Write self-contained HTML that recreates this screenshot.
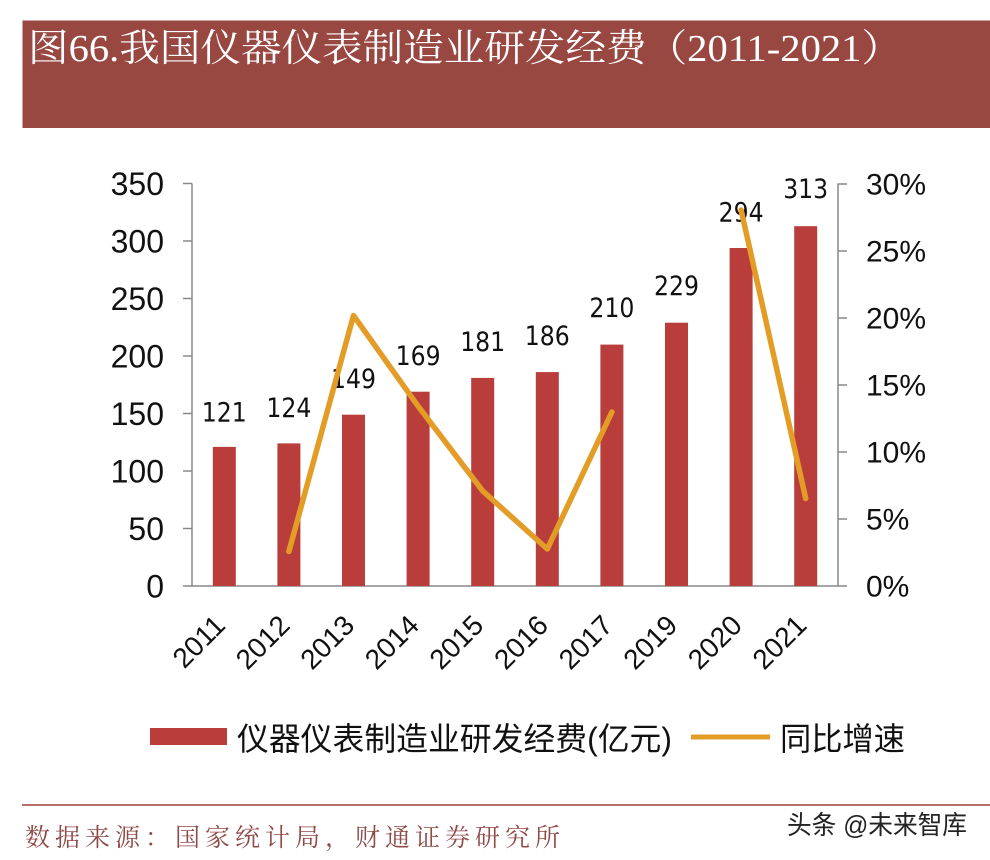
<!DOCTYPE html>
<html>
<head>
<meta charset="utf-8">
<style>
  html, body { margin:0; padding:0; background:#ffffff; }
  body { width:990px; height:860px; overflow:hidden; }
  svg { display:block; }
</style>
</head>
<body>
<svg width="990" height="860" viewBox="0 0 990 860" xmlns="http://www.w3.org/2000/svg">
  <rect x="0" y="0" width="990" height="860" fill="#ffffff"/>

  <!-- Title banner -->
  <rect x="22.5" y="20.5" width="968" height="107.5" fill="#984741"/>
  <text x="28" y="61" font-family="'Liberation Serif','Noto Serif CJK SC',serif" font-size="38" fill="#ffffff" textLength="874" lengthAdjust="spacingAndGlyphs">图66.我国仪器仪表制造业研发经费（2011-2021）</text>

  <!-- Axes -->
  <g stroke="#888888" stroke-width="1.5" fill="none">
    <line x1="192" y1="183.5" x2="192" y2="586"/>
    <line x1="838" y1="183.5" x2="838" y2="586"/>
    <line x1="183" y1="586" x2="847" y2="586"/>
    <line x1="183" y1="183.5" x2="192" y2="183.5"/>
    <line x1="183" y1="241" x2="192" y2="241"/>
    <line x1="183" y1="298.5" x2="192" y2="298.5"/>
    <line x1="183" y1="356" x2="192" y2="356"/>
    <line x1="183" y1="413.5" x2="192" y2="413.5"/>
    <line x1="183" y1="471" x2="192" y2="471"/>
    <line x1="183" y1="528.5" x2="192" y2="528.5"/>
    <line x1="838" y1="184" x2="847" y2="184"/>
    <line x1="838" y1="251" x2="847" y2="251"/>
    <line x1="838" y1="318" x2="847" y2="318"/>
    <line x1="838" y1="385" x2="847" y2="385"/>
    <line x1="838" y1="452" x2="847" y2="452"/>
    <line x1="838" y1="519" x2="847" y2="519"/>
  </g>

  <!-- Left axis labels -->
  <g font-family="'Liberation Sans',sans-serif" font-size="32" fill="#111111" text-anchor="end">
    <text x="164" y="195">350</text>
    <text x="164" y="252.5">300</text>
    <text x="164" y="310">250</text>
    <text x="164" y="367.5">200</text>
    <text x="164" y="425">150</text>
    <text x="164" y="482.5">100</text>
    <text x="164" y="540">50</text>
    <text x="164" y="597.5">0</text>
  </g>

  <!-- Right axis labels -->
  <g font-family="'Liberation Sans',sans-serif" font-size="30" fill="#111111" text-anchor="start">
    <text x="866" y="194.7">30%</text>
    <text x="866" y="261.7">25%</text>
    <text x="866" y="328.7">20%</text>
    <text x="866" y="395.7">15%</text>
    <text x="866" y="462.7">10%</text>
    <text x="866" y="529.7">5%</text>
    <text x="866" y="596.7">0%</text>
  </g>

  <!-- Bars -->
  <g fill="#B83D3B">
    <rect x="212.8" y="446.9" width="23" height="139.1"/>
    <rect x="277.4" y="443.4" width="23" height="142.6"/>
    <rect x="342" y="414.7" width="23" height="171.3"/>
    <rect x="406.6" y="391.7" width="23" height="194.3"/>
    <rect x="471.2" y="377.9" width="23" height="208.1"/>
    <rect x="535.8" y="372.1" width="23" height="213.9"/>
    <rect x="600.4" y="344.6" width="23" height="241.4"/>
    <rect x="665" y="322.7" width="23" height="263.3"/>
    <rect x="729.6" y="248" width="23" height="338"/>
    <rect x="794.2" y="226.2" width="23" height="359.8"/>
  </g>

  <!-- Data labels -->
  <g font-family="'DejaVu Sans',sans-serif" font-size="27" fill="#111111">
    <text x="201.8" y="421.5" textLength="45" lengthAdjust="spacingAndGlyphs">121</text>
    <text x="266.4" y="417" textLength="45" lengthAdjust="spacingAndGlyphs">124</text>
    <text x="331" y="388" textLength="45" lengthAdjust="spacingAndGlyphs">149</text>
    <text x="395.6" y="365" textLength="45" lengthAdjust="spacingAndGlyphs">169</text>
    <text x="460.2" y="351" textLength="45" lengthAdjust="spacingAndGlyphs">181</text>
    <text x="524.8" y="345" textLength="45" lengthAdjust="spacingAndGlyphs">186</text>
    <text x="589.4" y="317" textLength="45" lengthAdjust="spacingAndGlyphs">210</text>
    <text x="654" y="295" textLength="45" lengthAdjust="spacingAndGlyphs">229</text>
    <text x="718.6" y="221.5" textLength="45" lengthAdjust="spacingAndGlyphs">294</text>
    <text x="783.2" y="198" textLength="45" lengthAdjust="spacingAndGlyphs">313</text>
  </g>

  <!-- Growth line -->
  <g stroke="#E39D26" stroke-width="5.5" fill="none" stroke-linejoin="round" stroke-linecap="round">
    <polyline points="288.9,551.5 353.5,315.5 418.1,406.2 482.7,490.9 547.3,549 611.9,412"/>
    <polyline points="741.1,210 805.7,498.5"/>
  </g>

  <!-- X labels rotated -->
  <g font-family="'Liberation Sans',sans-serif" font-size="28" fill="#111111" text-anchor="end">
    <text transform="translate(226.8,627) rotate(-45)">2011</text>
    <text transform="translate(291.4,627) rotate(-45)">2012</text>
    <text transform="translate(356,627) rotate(-45)">2013</text>
    <text transform="translate(420.6,627) rotate(-45)">2014</text>
    <text transform="translate(485.2,627) rotate(-45)">2015</text>
    <text transform="translate(549.8,627) rotate(-45)">2016</text>
    <text transform="translate(614.4,627) rotate(-45)">2017</text>
    <text transform="translate(679,627) rotate(-45)">2019</text>
    <text transform="translate(743.6,627) rotate(-45)">2020</text>
    <text transform="translate(808.2,627) rotate(-45)">2021</text>
  </g>

  <!-- Legend -->
  <rect x="150" y="728" width="77" height="17" fill="#B83D3B"/>
  <text x="237" y="750" font-family="'Liberation Sans','Noto Sans CJK SC',sans-serif" font-size="32" fill="#111111" textLength="435" lengthAdjust="spacingAndGlyphs">仪器仪表制造业研发经费(亿元)</text>
  <line x1="691" y1="737" x2="770" y2="737" stroke="#E39D26" stroke-width="5"/>
  <text x="780" y="750" font-family="'Liberation Sans','Noto Sans CJK SC',sans-serif" font-size="32" fill="#111111" textLength="125" lengthAdjust="spacingAndGlyphs">同比增速</text>

  <!-- Footer -->
  <line x1="22" y1="805" x2="990" y2="805" stroke="#A0403C" stroke-width="1.5"/>
  <text x="25" y="846" font-family="'Liberation Serif','Noto Serif CJK SC',serif" font-size="25" fill="#8E4B48" textLength="535" lengthAdjust="spacing">数据来源：国家统计局，财通证券研究所</text>
  <text x="787" y="834" font-family="'Liberation Sans','Noto Sans CJK SC',sans-serif" font-size="26" fill="#222222" textLength="180" lengthAdjust="spacingAndGlyphs">头条 @未来智库</text>
</svg>
</body>
</html>
